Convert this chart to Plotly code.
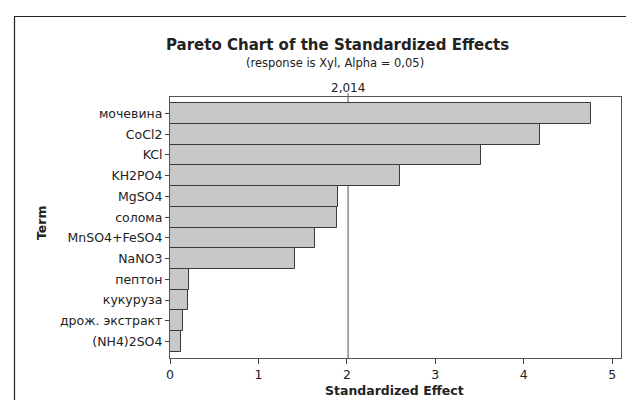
import plotly.graph_objects as go

terms = ["мочевина", "CoCl2", "KCl", "KH2PO4", "MgSO4", "солома", "MnSO4+FeSO4",
         "NaNO3", "пептон", "кукуруза", "дрож. экстракт", "(NH4)2SO4"]
effects = [4.757, 4.18, 3.514, 2.60, 1.905, 1.894, 1.642, 1.412, 0.214, 0.199, 0.150, 0.128]
ref_value = 2.014
ref_label = "2,014"
x_ticks = [0, 1, 2, 3, 4, 5]

FONT = "DejaVu Sans, Verdana, sans-serif"
W, H = 634, 400
ML, MR, MT, MB = 162, 21, 89, 50
PW, PH = W - ML - MR, H - MT - MB

def px(x):
    return (x - ML) / PW

def py(y):
    return (H - MB - y) / PH

fig = go.Figure()
fig.add_trace(go.Bar(
    x=effects, y=terms, orientation="h", width=1.0,
    marker=dict(color="#C8C8C8", line=dict(color="#3A3A3A", width=1)),
    showlegend=False,
))

fig.add_shape(type="line", xref="x", yref="paper", x0=ref_value, x1=ref_value, y0=0, y1=1,
              line=dict(color="#8C8C8C", width=1.5), layer="below")
fig.add_shape(type="line", xref="x", yref="paper", x0=ref_value, x1=ref_value, y0=1, y1=1.015,
              line=dict(color="#666666", width=1))

# outer frame
fig.add_shape(type="rect", xref="paper", yref="paper",
              x0=px(6.5), x1=px(631), y0=py(8.5), y1=py(410),
              line=dict(color="#222222", width=1.2))

fig.add_annotation(text="<b>Pareto Chart of the Standardized Effects</b>", xref="paper", yref="paper",
                   x=px(329), y=py(37), showarrow=False, font=dict(family=FONT, size=15, color="#222"),
                   xanchor="center", yanchor="middle")
fig.add_annotation(text="(response is Xyl, Alpha = 0,05)", xref="paper", yref="paper",
                   x=px(327), y=py(55), showarrow=False, font=dict(family=FONT, size=11.5, color="#222"),
                   xanchor="center", yanchor="middle")
fig.add_annotation(text=ref_label, xref="x", yref="paper",
                   x=ref_value, y=py(80), showarrow=False, font=dict(family=FONT, size=12, color="#222"),
                   xanchor="center", yanchor="middle")
fig.add_annotation(text="<b>Term</b>", xref="paper", yref="paper", textangle=-90,
                   x=px(33), y=py(215), showarrow=False, font=dict(family=FONT, size=12.5, color="#222"),
                   xanchor="center", yanchor="middle")
fig.add_annotation(text="<b>Standardized Effect</b>", xref="paper", yref="paper",
                   x=px(386), y=py(382), showarrow=False, font=dict(family=FONT, size=12.5, color="#222"),
                   xanchor="center", yanchor="middle")

fig.update_layout(
    width=W, height=H,
    margin=dict(l=ML, r=MR, t=MT, b=MB, pad=0),
    paper_bgcolor="white", plot_bgcolor="white",
    font=dict(family=FONT, size=12, color="#222"),
    bargap=0,
    xaxis=dict(range=[0, 5.1], tickvals=x_ticks, ticks="outside", ticklen=5, tickcolor="#444",
               showgrid=False, zeroline=False, showline=True, linecolor="#555", linewidth=1.2,
               mirror=True, tickfont=dict(family=FONT, size=12.5, color="#222")),
    yaxis=dict(type="category", categoryarray=terms, range=[11.79, -0.79],
               ticks="outside", ticklen=4, tickcolor="#444", showgrid=False, zeroline=False,
               showline=True, linecolor="#555", linewidth=1.2, mirror=True,
               tickfont=dict(family=FONT, size=12.5, color="#222")),
)

fig.write_html("out.html")
